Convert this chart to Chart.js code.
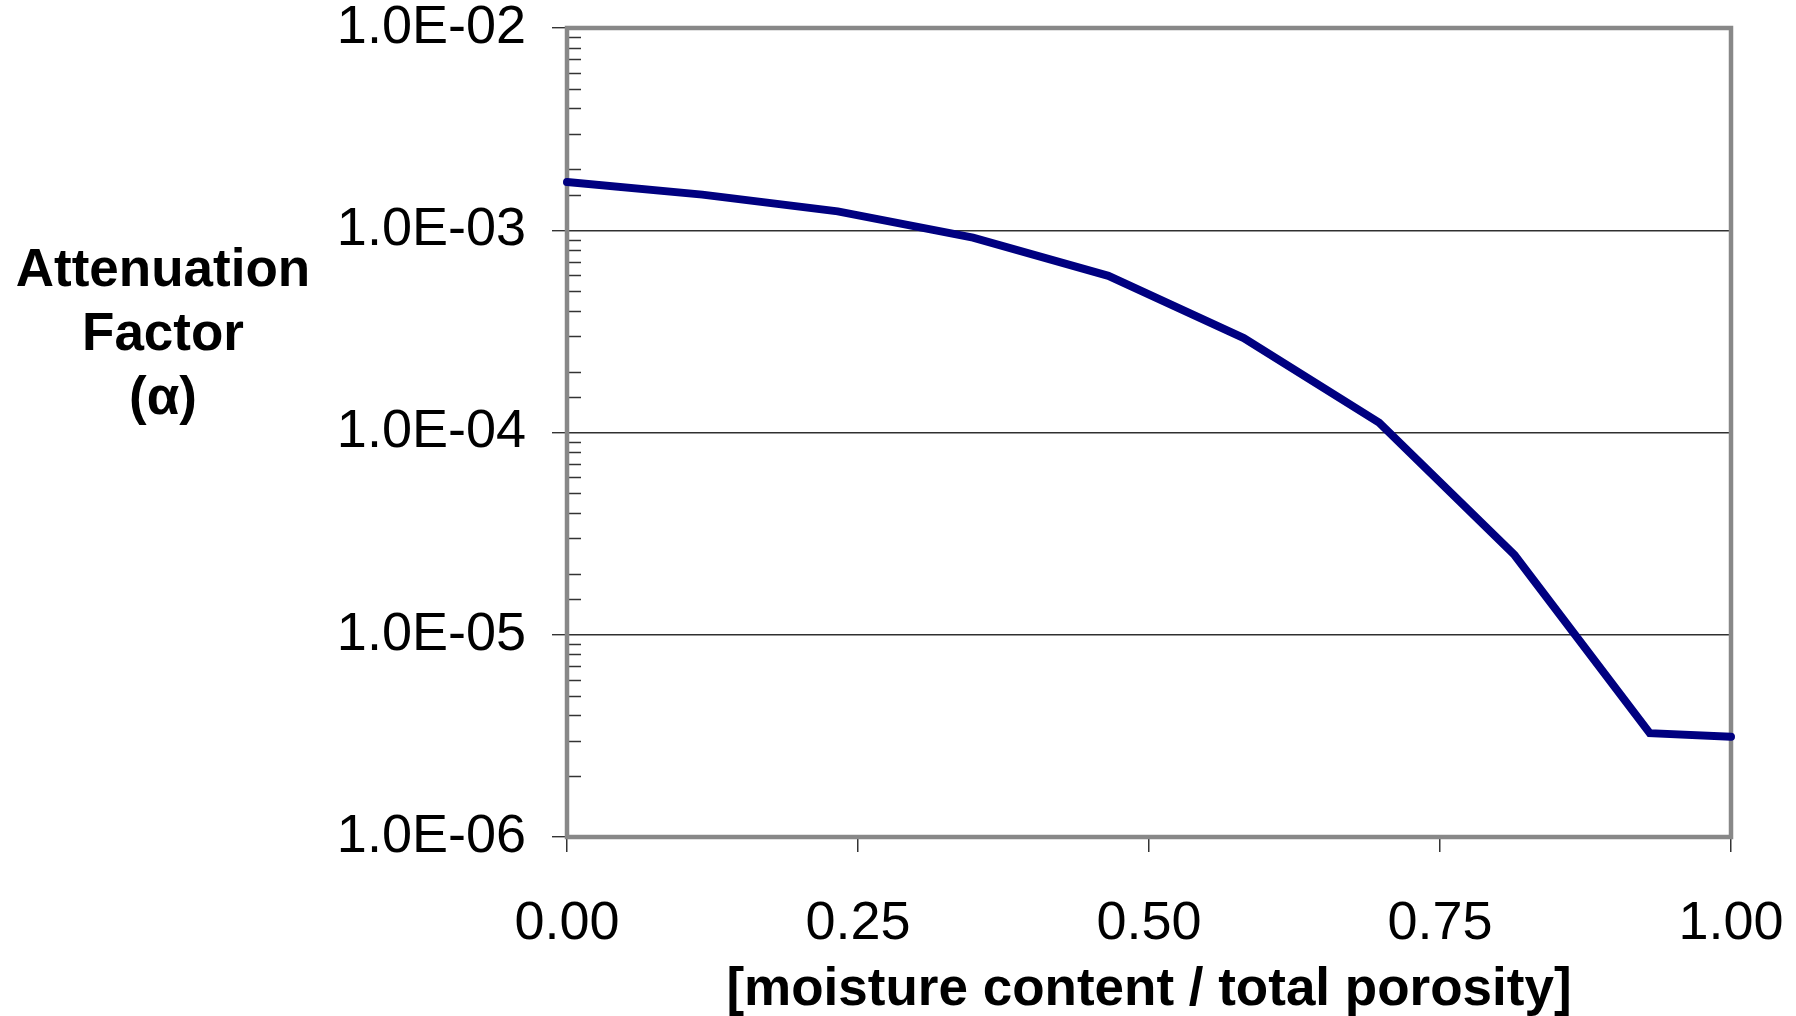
<!DOCTYPE html>
<html>
<head>
<meta charset="utf-8">
<script src="https://cdn.jsdelivr.net/npm/chart.js@4/dist/chart.umd.min.js"></script>
<style>
  html, body { margin: 0; padding: 0; background: #ffffff; }
  #wrap { width: 1796px; height: 1016px; }
</style>
</head>
<body>
<div id="wrap"><canvas id="c" width="1796" height="1016"></canvas></div>
<script>
// ---- data ----
const saturation = [0, 0.1163, 0.2326, 0.3488, 0.4651, 0.5814, 0.6977, 0.8140, 0.9302, 1.0];
const alphaValues = [1.73e-3, 1.50e-3, 1.24e-3, 9.2e-4, 5.95e-4, 2.93e-4, 1.12e-4, 2.48e-5, 3.26e-6, 3.13e-6];
const xTickLabels = ['0.00', '0.25', '0.50', '0.75', '1.00'];
const yTickLabels = ['1.0E-06', '1.0E-05', '1.0E-04', '1.0E-03', '1.0E-02'];
const yTitleLines = ['Attenuation', 'Factor', '(\u03b1)'];
const xTitle = '[moisture content / total porosity]';

const FONT = '"Liberation Sans", Arial, sans-serif';

function isDecade(v) {
  const l = Math.log10(v);
  return Math.abs(l - Math.round(l)) < 1e-9;
}

const frame = {
  id: 'frame',
  beforeDatasetsDraw(chart) {
    const {ctx, chartArea: a} = chart;
    const ys = chart.scales.y;
    ctx.save();
    ctx.strokeStyle = '#333333';
    ctx.lineWidth = 1.5;
    ys.ticks.forEach((t, i) => {
      if (isDecade(t.value)) return;
      const p = Math.round(ys.getPixelForTick(i)) + 0.5;
      ctx.beginPath();
      ctx.moveTo(a.left, p);
      ctx.lineTo(a.left + 14, p);
      ctx.stroke();
    });
    ctx.strokeStyle = '#888888';
    ctx.lineWidth = 4.5;
    ctx.strokeRect(a.left, a.top, a.right - a.left, a.bottom - a.top);
    ctx.restore();
  },
  afterDraw(chart) {
    const {ctx} = chart;
    ctx.save();
    ctx.fillStyle = '#000000';
    ctx.font = 'bold 53px ' + FONT;
    ctx.textAlign = 'center';
    ctx.textBaseline = 'middle';
    const cx = 163, y0 = 271, lh = 64;
    yTitleLines.forEach((s, i) => ctx.fillText(s, cx, y0 + i * lh));
    ctx.restore();
  }
};

new Chart(document.getElementById('c'), {
  type: 'line',
  data: {
    datasets: [{
      data: saturation.map((x, i) => ({x: x, y: alphaValues[i]})),
      borderColor: '#000080',
      borderWidth: 8,
      pointRadius: 0,
      tension: 0,
      borderJoinStyle: 'miter',
      borderCapStyle: 'round',
      clip: false
    }]
  },
  options: {
    responsive: false,
    animation: false,
    devicePixelRatio: 1,
    layout: { padding: { top: 28, right: 65, bottom: 0, left: 0 } },
    plugins: { legend: { display: false }, tooltip: { enabled: false } },
    scales: {
      x: {
        type: 'linear',
        min: 0, max: 1,
        afterFit(s) { s.height = 179; s.paddingLeft = 0; s.paddingRight = 0; },
        border: { display: false },
        grid: { drawOnChartArea: false, drawTicks: true, tickLength: 15, color: '#333333', lineWidth: 1.5 },
        ticks: {
          stepSize: 0.25,
          padding: 45,
          color: '#000000',
          font: { family: FONT, size: 54, lineHeight: 1 },
          callback: (v, i) => xTickLabels[i],
          maxRotation: 0, autoSkip: false
        },
        title: {
          display: true,
          text: xTitle,
          color: '#000000',
          font: { family: FONT, size: 53, weight: 'bold', lineHeight: 0.98 },
          padding: { top: 0, bottom: 0 }
        }
      },
      y: {
        type: 'logarithmic',
        min: 1e-6, max: 1e-2,
        afterFit(s) { s.width = 567; s.paddingTop = 0; s.paddingBottom = 0; },
        border: { display: false },
        grid: {
          drawOnChartArea: true,
          drawTicks: true,
          tickLength: 15,
          lineWidth: 1.4,
          color: (c) => (c.tick && isDecade(c.tick.value)) ? '#303030' : 'rgba(0,0,0,0)',
          tickColor: (c) => (c.tick && isDecade(c.tick.value)) ? '#333333' : 'rgba(0,0,0,0)'
        },
        ticks: {
          padding: 26,
          autoSkip: false,
          color: '#000000',
          font: { family: FONT, size: 54, lineHeight: 1 },
          callback: (v) => isDecade(v) ? yTickLabels[Math.round(Math.log10(v)) + 6] : ''
        }
      }
    }
  },
  plugins: [frame]
});
</script>
</body>
</html>
